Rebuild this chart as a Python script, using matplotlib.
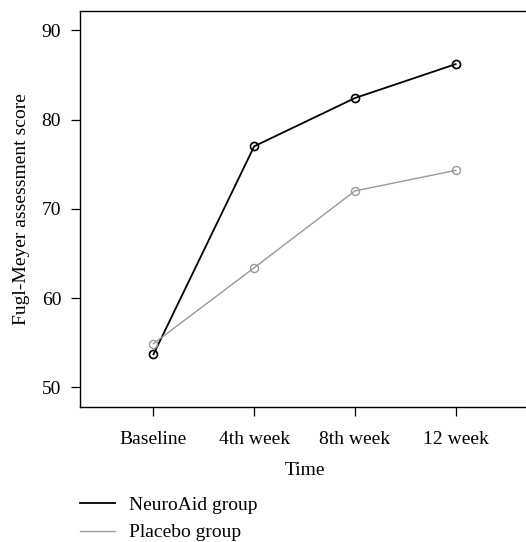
import matplotlib
matplotlib.use("Agg")
import matplotlib.pyplot as plt

plt.rcParams['font.family'] = ['Liberation Serif', 'DejaVu Serif']

# time points and scores
time_labels = ["Baseline", "4th week", "8th week", "12 week"]
neuroaid = [53.7, 77.0, 82.4, 86.2]
placebo = [54.9, 63.4, 72.0, 74.3]

x = list(range(len(time_labels)))

fig = plt.figure(figsize=(5.26, 5.42), dpi=100)
ax = fig.add_axes([0.152, 0.249, 0.854, 0.7315])

ax.plot(x, neuroaid, color="black", lw=1.3, marker="o", ms=5.8,
        mfc="none", mec="black", mew=1.2, label="NeuroAid group")
ax.plot(x, placebo, color="#999999", lw=1.0, marker="o", ms=5.8,
        mfc="none", mec="#999999", mew=1.0, label="Placebo group")

ax.set_xlim(-0.73, 3.73)
ax.set_ylim(47.8, 92.2)
ax.set_yticks([50, 60, 70, 80, 90])
ax.set_xticks(x)
ax.set_xticklabels(time_labels)
ax.tick_params(direction="out", length=6.5, width=0.9, labelsize=14)
ax.tick_params(axis="x", pad=10.5)
ax.tick_params(axis="y", pad=7)
for s in ax.spines.values():
    s.set_linewidth(1.0)

ax.set_xlabel("Time", fontsize=14, labelpad=10)
ax.set_ylabel("Fugl-Meyer assessment score", fontsize=14, labelpad=8.5)

# legend below the plot, lines only
h1 = plt.Line2D([], [], color="black", lw=1.3)
h2 = plt.Line2D([], [], color="#999999", lw=1.0)
fig.legend([h1, h2], ["NeuroAid group", "Placebo group"],
           loc="upper left", bbox_to_anchor=(0.152, 0.084),
           frameon=False, fontsize=14, borderpad=0, borderaxespad=0,
           handlelength=1.8, handletextpad=0.72, labelspacing=0.5)

fig.savefig("out.png", dpi=100)
